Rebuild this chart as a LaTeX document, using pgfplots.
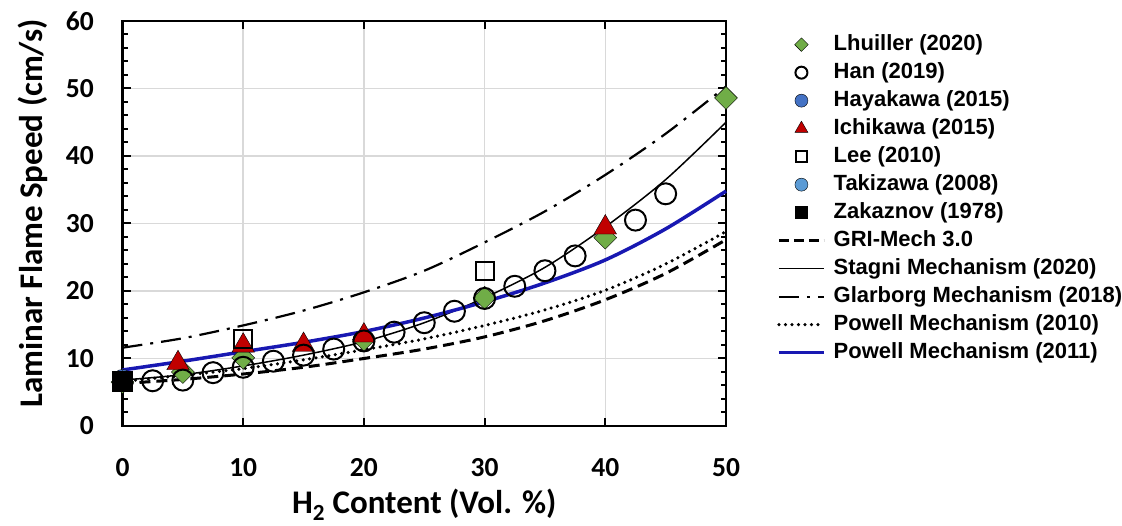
\documentclass[border=0pt]{standalone}
\usepackage{fontspec}
\setmainfont{Carlito}
\newfontfamily\legendfont{Liberation Sans}
\usepackage{pgfplots}
\pgfplotsset{compat=1.18}
\definecolor{cgreen}{RGB}{112,173,71}
\definecolor{cred}{RGB}{192,0,0}
\definecolor{cblue}{RGB}{68,114,196}
\definecolor{clblue}{RGB}{91,155,213}
\definecolor{cnavy}{RGB}{24,24,178}
\definecolor{cgrid}{RGB}{217,217,217}
\begin{document}
\begin{tikzpicture}[x=1pt,y=1pt]
\path[use as bounding box] (0,0) rectangle (1122,526);
\begin{axis}[
  at={(122.5pt,100pt)}, anchor=south west,
  scale only axis, width=603.5pt, height=405pt,
  xmin=0, xmax=50, ymin=0, ymax=60,
  xtick={0,10,...,50}, ytick={0,10,...,60},
  minor y tick num=4,
  tick align=inside,
  major tick length=8pt, minor tick length=5pt,
  every tick/.style={black, line width=2pt},
  axis line style={line width=2.5pt, black},
  grid=major, major grid style={cgrid, line width=1.5pt},
  clip=false,
  /pgf/number format/assume math mode=true,
  tick label style={font=\bfseries\fontsize{27.5}{27.5}\selectfont, inner sep=0pt},
  xticklabel style={anchor=north, yshift=-32pt},
  yticklabel style={anchor=east, xshift=-28.5pt},
  xlabel={H\textsubscript{2} Content (Vol. \%)},
  ylabel={Laminar Flame Speed (cm/s)},
  label style={font=\bfseries\fontsize{33}{33}\selectfont},
  xlabel style={at={(axis description cs:0.5,-0.195)}, anchor=center},
  ylabel style={at={(axis description cs:-0.148,0.525)}, anchor=center, rotate=0},
  legend style={at={(1.0845,0.968)}, anchor=north west, draw=none, fill=none,
    inner sep=0pt, row sep=7pt, column sep=8pt,
    font=\legendfont\bfseries\fontsize{22}{22}\selectfont,
    nodes={inner sep=0pt, text height=16pt, text depth=5pt}},
  legend cell align=left,
  legend image code/.code={%
    \path (0pt,0pt) (45pt,0pt);
    \draw[mark repeat=2,mark phase=2] plot coordinates {(0pt,0pt) (22.5pt,0pt) (45pt,0pt)};},
]
% legend entries
\addlegendimage{only marks, mark=square*, mark size=4.8pt, mark options={rotate=45, fill=cgreen, draw=none}}
\addlegendentry{Lhuiller (2020)}
\addlegendimage{only marks, mark=o, mark size=6pt, mark options={black, line width=2pt}}
\addlegendentry{Han (2019)}
\addlegendimage{only marks, mark=*, mark size=6.5pt, mark options={fill=cblue, draw=none}}
\addlegendentry{Hayakawa (2015)}
\addlegendimage{only marks, mark=triangle*, mark size=7.5pt, mark options={fill=cred, draw=none}}
\addlegendentry{Ichikawa (2015)}
\addlegendimage{only marks, mark=square, mark size=5.5pt, mark options={black, line width=2pt}}
\addlegendentry{Lee (2010)}
\addlegendimage{only marks, mark=*, mark size=6.5pt, mark options={fill=clblue, draw=none}}
\addlegendentry{Takizawa (2008)}
\addlegendimage{only marks, mark=square*, mark size=6pt, mark options={fill=black, draw=none}}
\addlegendentry{Zakaznov (1978)}
\addlegendimage{black, line width=3pt, dash pattern=on 10pt off 5pt}
\addlegendentry{GRI-Mech 3.0}
\addlegendimage{black, line width=1.5pt}
\addlegendentry{Stagni Mechanism (2020)}
\addlegendimage{black, line width=2.2pt, dash pattern=on 20pt off 8pt on 3pt off 8pt}
\addlegendentry{Glarborg Mechanism (2018)}
\addlegendimage{black, line width=3.5pt, line cap=round, dash pattern=on 0pt off 6.5pt}
\addlegendentry{Powell Mechanism (2010)}
\addlegendimage{cnavy, line width=3.5pt}
\addlegendentry{Powell Mechanism (2011)}
% model curves
\addplot[forget plot, smooth, black, line width=3pt, dash pattern=on 11pt off 6pt] coordinates {
(0,6.3) (5,6.9) (10,7.7) (15,8.7) (20,10.0) (25,11.4) (30,13.2) (35,15.6) (40,18.7) (45,22.6) (50,27.6)};
\addplot[forget plot, smooth, black, line width=3.5pt, line cap=round, dash pattern=on 0pt off 6.5pt] coordinates {
(0,6.6) (5,7.5) (10,8.5) (15,9.8) (20,11.3) (25,12.9) (30,14.9) (35,17.2) (40,20.1) (45,24.0) (50,28.8)};
\addplot[forget plot, smooth, black, line width=2.2pt, dash pattern=on 20pt off 8pt on 3pt off 8pt] coordinates {
(0,11.6) (5,13.0) (10,14.9) (15,17.1) (20,19.8) (25,23.0) (30,27.2) (35,31.8) (40,37.2) (45,43.3) (50,50.3)};
\addplot[forget plot, smooth, black, line width=1.5pt] coordinates {
(0,6.8) (5,7.6) (10,8.9) (15,10.5) (20,12.5) (25,15.3) (30,19.0) (35,23.5) (40,29.5) (45,36.5) (50,45.0)};
\addplot[forget plot, smooth, cnavy, line width=3.5pt] coordinates {
(0,8.3) (5,9.6) (10,11.0) (15,12.4) (20,14.0) (25,16.0) (30,18.4) (35,21.2) (40,24.6) (45,29.2) (50,34.8)};
% experimental data
\addplot[forget plot, only marks, mark=*, mark size=10pt, mark options={fill=clblue, draw=none}] coordinates {(0,6.7)};
\addplot[forget plot, only marks, mark=*, mark size=10pt, mark options={fill=cblue, draw=none}] coordinates {(0,6.9)};
\addplot[forget plot, only marks, mark=square*, mark size=8.1pt, mark options={rotate=45, fill=cgreen, draw=none}] coordinates {
(0,6.5) (5,8.0) (10,10.1) (20,12.8) (30,19.0) (40,27.9) (50,48.6)};
\addplot[forget plot, only marks, mark=triangle*, mark size=13pt, mark options={fill=cred, draw=none}] coordinates {
(4.6,9.3) (10,11.9) (15,12.0) (20,13.4) (40,29.4)};
\addplot[forget plot, only marks, mark=o, mark size=10.5pt, mark options={black, line width=2pt}] coordinates {
(2.5,6.7) (5,6.8) (7.5,7.9) (10,8.7) (12.5,9.6) (15,10.5) (17.5,11.4) (20,12.6) (22.5,13.9) (25,15.3) (27.5,17.0) (30,18.9) (32.5,20.7) (35,23.0) (37.5,25.2) (42.5,30.5) (45,34.4)};
\addplot[forget plot, only marks, mark=square, mark size=9pt, mark options={black, line width=2pt}] coordinates {
(10,12.9) (30,23.0)};
\addplot[forget plot, only marks, mark=square*, mark size=10pt, mark options={fill=black, draw=none}] coordinates {(0,6.6)};
\end{axis}
\end{tikzpicture}
\end{document}
